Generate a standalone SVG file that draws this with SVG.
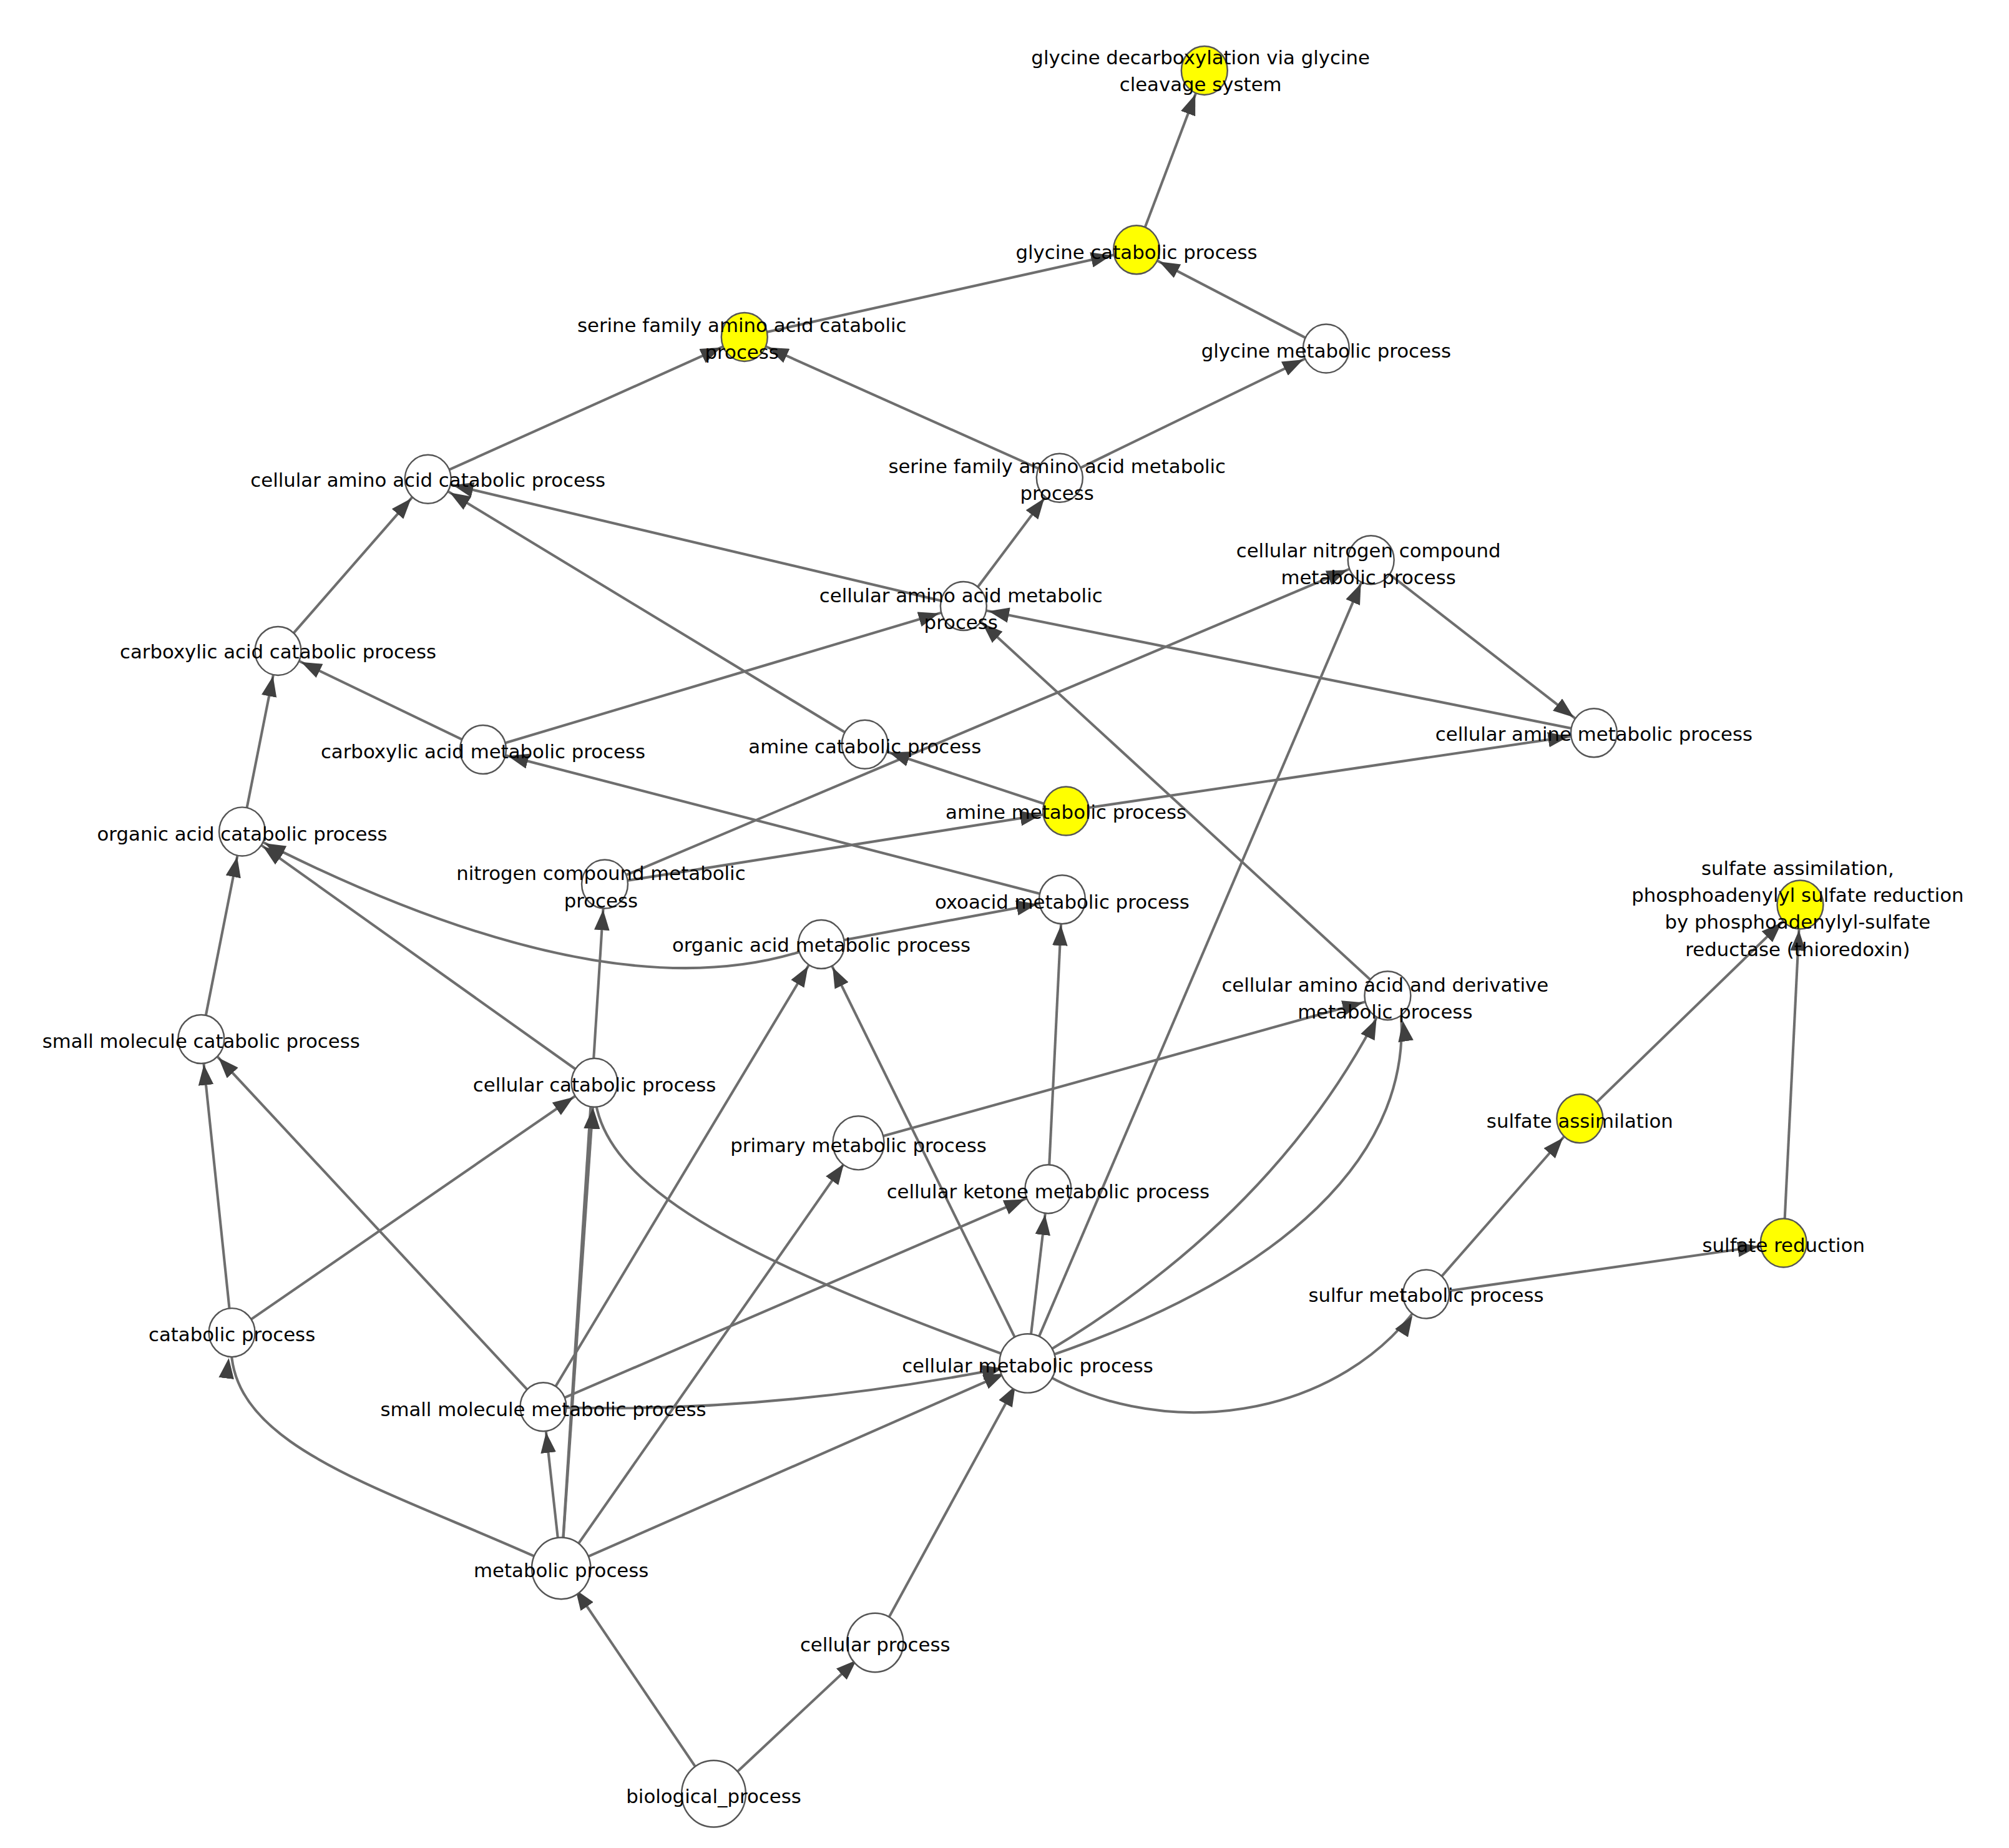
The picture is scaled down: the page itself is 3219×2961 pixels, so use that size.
<svg xmlns="http://www.w3.org/2000/svg" width="3219" height="2961" viewBox="0 0 3219 2961">
<style>
.e{fill:none;stroke:#6e6e6e;stroke-width:2;marker-end:url(#a)}
.n{fill:#fff;stroke:#555;stroke-width:1.2}
.y{fill:#ffff00;stroke:#555;stroke-width:1.2}
text{font-family:"DejaVu Sans",sans-serif;font-size:15px;fill:#000;text-anchor:middle}
</style>
<defs>
<marker id="a" markerUnits="strokeWidth" markerWidth="10" markerHeight="6" refX="18" refY="3" orient="auto">
<path d="M0,0 L8,3 L0,6 z" fill="#404040"/>
</marker>
</defs>
<rect width="3219" height="2961" fill="#fff"/>
<g transform="scale(2.053)">
<g id="edges">
<path class="e" d="M887,195 L940,55"/>
<path class="e" d="M581,263 L887,195"/>
<path class="e" d="M1035,272 L887,195"/>
<path class="e" d="M334,374 L581,263"/>
<path class="e" d="M827,373 L581,263"/>
<path class="e" d="M827,373 L1035,272"/>
<path class="e" d="M752,473 L827,373"/>
<path class="e" d="M752,473 L334,374"/>
<path class="e" d="M217,508 L334,374"/>
<path class="e" d="M675,581 L334,374"/>
<path class="e" d="M377,585 L752,473"/>
<path class="e" d="M1244,572 L752,473"/>
<path class="e" d="M377,585 L217,508"/>
<path class="e" d="M1070,437 L1244,572"/>
<path class="e" d="M472,690 L1070,437"/>
<path class="e" d="M832,633 L675,581"/>
<path class="e" d="M832,633 L1244,572"/>
<path class="e" d="M472,690 L832,633"/>
<path class="e" d="M189,649 L217,508"/>
<path class="e" d="M829,702 L377,585"/>
<path class="e" d="M641,737 L829,702"/>
<path class="e" d="M641,737 Q480,800 189,649"/>
<path class="e" d="M1083,777 L752,473"/>
<path class="e" d="M157,811 L189,649"/>
<path class="e" d="M464,845 L189,649"/>
<path class="e" d="M181,1040 L157,811"/>
<path class="e" d="M181,1040 L464,845"/>
<path class="e" d="M424,1098 L157,811"/>
<path class="e" d="M424,1098 L641,737"/>
<path class="e" d="M424,1098 L818,928"/>
<path class="e" d="M424,1098 Q600,1105 802,1064"/>
<path class="e" d="M670,892 L1083,777"/>
<path class="e" d="M818,928 L829,702"/>
<path class="e" d="M802,1064 L641,737"/>
<path class="e" d="M802,1064 L818,928"/>
<path class="e" d="M802,1064 L1070,437"/>
<path class="e" d="M802,1064 Q1000,950 1083,777"/>
<path class="e" d="M802,1064 C1000,1000 1110,900 1092,777"/>
<path class="e" d="M802,1064 C600,990 460,930 464,845"/>
<path class="e" d="M802,1064 C900,1130 1050,1110 1113,1010"/>
<path class="e" d="M1113,1010 L1233,873"/>
<path class="e" d="M1113,1010 L1392,970"/>
<path class="e" d="M1233,873 L1405,706"/>
<path class="e" d="M1392,970 L1405,706"/>
<path class="e" d="M438,1224 C300,1160 170,1130 181,1040"/>
<path class="e" d="M438,1224 L424,1098"/>
<path class="e" d="M438,1224 L472,690"/>
<path class="e" d="M438,1224 L464,845"/>
<path class="e" d="M438,1224 L670,892"/>
<path class="e" d="M438,1224 L802,1064"/>
<path class="e" d="M683,1282 L802,1064"/>
<path class="e" d="M557,1400 L438,1224"/>
<path class="e" d="M557,1400 L683,1282"/>
</g>
<g id="n1"><ellipse class="y" cx="940" cy="55" rx="18" ry="19"/><text x="937" y="50">glycine decarboxylation via glycine</text><text x="937" y="71">cleavage system</text></g>
<g id="n2"><ellipse class="y" cx="887" cy="195" rx="18" ry="19"/><text x="887" y="202">glycine catabolic process</text></g>
<g id="n3"><ellipse class="y" cx="581" cy="263" rx="18" ry="19"/><text x="579" y="259">serine family amino acid catabolic</text><text x="579" y="280">process</text></g>
<g id="n4"><ellipse class="n" cx="1035" cy="272" rx="18" ry="19"/><text x="1035" y="279">glycine metabolic process</text></g>
<g id="n5"><ellipse class="n" cx="334" cy="374" rx="18" ry="19"/><text x="334" y="380">cellular amino acid catabolic process</text></g>
<g id="n6"><ellipse class="n" cx="827" cy="373" rx="18" ry="19"/><text x="825" y="369">serine family amino acid metabolic</text><text x="825" y="390">process</text></g>
<g id="n7"><ellipse class="n" cx="1070" cy="437" rx="18" ry="19"/><text x="1068" y="435">cellular nitrogen compound</text><text x="1068" y="456">metabolic process</text></g>
<g id="n8"><ellipse class="n" cx="752" cy="473" rx="18" ry="19"/><text x="750" y="470">cellular amino acid metabolic</text><text x="750" y="491">process</text></g>
<g id="n9"><ellipse class="n" cx="217" cy="508" rx="18" ry="19"/><text x="217" y="514">carboxylic acid catabolic process</text></g>
<g id="n10"><ellipse class="n" cx="377" cy="585" rx="18" ry="19"/><text x="377" y="592">carboxylic acid metabolic process</text></g>
<g id="n11"><ellipse class="n" cx="675" cy="581" rx="18" ry="19"/><text x="675" y="588">amine catabolic process</text></g>
<g id="n12"><ellipse class="n" cx="1244" cy="572" rx="18" ry="19"/><text x="1244" y="578">cellular amine metabolic process</text></g>
<g id="n13"><ellipse class="y" cx="832" cy="633" rx="18" ry="19"/><text x="832" y="639">amine metabolic process</text></g>
<g id="n14"><ellipse class="n" cx="189" cy="649" rx="18" ry="19"/><text x="189" y="656">organic acid catabolic process</text></g>
<g id="n15"><ellipse class="n" cx="472" cy="690" rx="18" ry="19"/><text x="469" y="687">nitrogen compound metabolic</text><text x="469" y="708">process</text></g>
<g id="n16"><ellipse class="n" cx="829" cy="702" rx="18" ry="19"/><text x="829" y="709">oxoacid metabolic process</text></g>
<g id="n17"><ellipse class="n" cx="641" cy="737" rx="18" ry="19"/><text x="641" y="743">organic acid metabolic process</text></g>
<g id="n18"><ellipse class="y" cx="1405" cy="706" rx="18" ry="19"/><text x="1403" y="683">sulfate assimilation,</text><text x="1403" y="704">phosphoadenylyl sulfate reduction</text><text x="1403" y="725">by phosphoadenylyl-sulfate</text><text x="1403" y="746">reductase (thioredoxin)</text></g>
<g id="n19"><ellipse class="n" cx="1083" cy="777" rx="18" ry="19"/><text x="1081" y="774">cellular amino acid and derivative</text><text x="1081" y="795">metabolic process</text></g>
<g id="n20"><ellipse class="n" cx="157" cy="811" rx="18" ry="19"/><text x="157" y="818">small molecule catabolic process</text></g>
<g id="n21"><ellipse class="n" cx="464" cy="845" rx="18" ry="19"/><text x="464" y="852">cellular catabolic process</text></g>
<g id="n22"><ellipse class="n" cx="670" cy="892" rx="20" ry="21"/><text x="670" y="899">primary metabolic process</text></g>
<g id="n23"><ellipse class="y" cx="1233" cy="873" rx="18" ry="19"/><text x="1233" y="880">sulfate assimilation</text></g>
<g id="n24"><ellipse class="n" cx="818" cy="928" rx="18" ry="19"/><text x="818" y="935">cellular ketone metabolic process</text></g>
<g id="n25"><ellipse class="y" cx="1392" cy="970" rx="18" ry="19"/><text x="1392" y="977">sulfate reduction</text></g>
<g id="n26"><ellipse class="n" cx="1113" cy="1010" rx="18" ry="19"/><text x="1113" y="1016">sulfur metabolic process</text></g>
<g id="n27"><ellipse class="n" cx="181" cy="1040" rx="18" ry="19"/><text x="181" y="1047">catabolic process</text></g>
<g id="n28"><ellipse class="n" cx="802" cy="1064" rx="22" ry="23"/><text x="802" y="1071">cellular metabolic process</text></g>
<g id="n29"><ellipse class="n" cx="424" cy="1098" rx="18" ry="19"/><text x="424" y="1105">small molecule metabolic process</text></g>
<g id="n30"><ellipse class="n" cx="438" cy="1224" rx="23" ry="24"/><text x="438" y="1231">metabolic process</text></g>
<g id="n31"><ellipse class="n" cx="683" cy="1282" rx="22" ry="23"/><text x="683" y="1289">cellular process</text></g>
<g id="n32"><ellipse class="n" cx="557" cy="1400" rx="25" ry="26"/><text x="557" y="1407">biological_process</text></g>
</g>
</svg>
